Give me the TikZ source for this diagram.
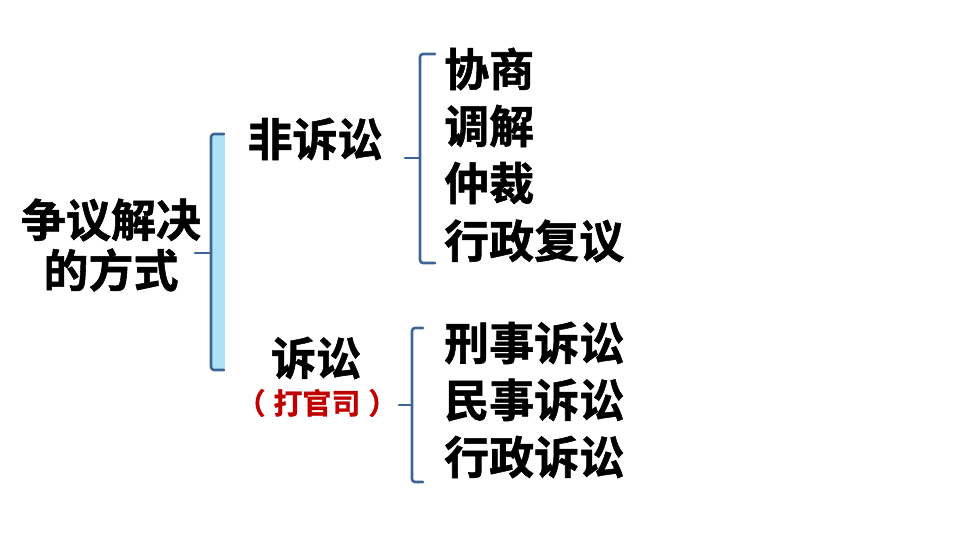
\documentclass[tikz,border=0pt]{standalone}
\usepackage{fontspec}
\newfontfamily\cjk{Noto Sans CJK SC Bold}[FakeBold=1.2]
\definecolor{brk}{HTML}{3F6597}
\definecolor{brkfill}{HTML}{ADE1F7}
\definecolor{redtxt}{HTML}{C00000}
\tikzset{
  big/.style={font=\cjk\fontsize{45}{50}\selectfont, inner sep=0pt, text=black},
  small/.style={font=\cjk\fontsize{29}{32}\selectfont, inner sep=0pt, text=redtxt},
  item/.style={big, anchor=west},
  brkline/.style={draw=brk, line width=2.6pt, rounded corners=3pt, line cap=round},
}
\begin{document}
\begin{tikzpicture}[x=1pt,y=-1pt]
\useasboundingbox (0,0) rectangle (960,540);
% root text
\node[big] (root1) at (111,220) {争议解决};
\node[big] (root2) at (111,270) {的方式};
% big bracket
\fill[brkfill] (211,134) rectangle (225,370);
\coordinate (b0m) at (195,253);
\coordinate (b0t) at (224,134);
\coordinate (b0b) at (224,370);
\draw[brkline] (b0t) -| (211,253) |- (b0b);
\draw[brkline,rounded corners=0pt] (b0m) -- (211,253);
% second level
\node[big] (fss) at (315,139) {非诉讼};
\node[big] (ss) at (316,358) {诉讼};
\node[small] (dgs) at (317,403) {（\hspace{8pt}打官司\hspace{8pt}）};
% bracket 1
\coordinate (b1m) at (405,158);
\coordinate (b1t) at (435,54);
\coordinate (b1b) at (435,263);
\draw[brkline] (b1t) -| (420,158) |- (b1b);
\draw[brkline,rounded corners=0pt] (b1m) -- (420,158);
% bracket 2
\coordinate (b2m) at (399,405);
\coordinate (b2t) at (423,328);
\coordinate (b2b) at (423,482);
\draw[brkline] (b2t) -| (412,405) |- (b2b);
\draw[brkline,rounded corners=0pt] (b2m) -- (412,405);
% items
\node[item] (x1) at (444,69) {协商};
\node[item] (x2) at (444,126) {调解};
\node[item] (x3) at (444,183) {仲裁};
\node[item] (x4) at (444,241) {行政复议};
\node[item] (s1) at (444,343) {刑事诉讼};
\node[item] (s2) at (444,400) {民事诉讼};
\node[item] (s3) at (444,457) {行政诉讼};
\end{tikzpicture}
\end{document}
